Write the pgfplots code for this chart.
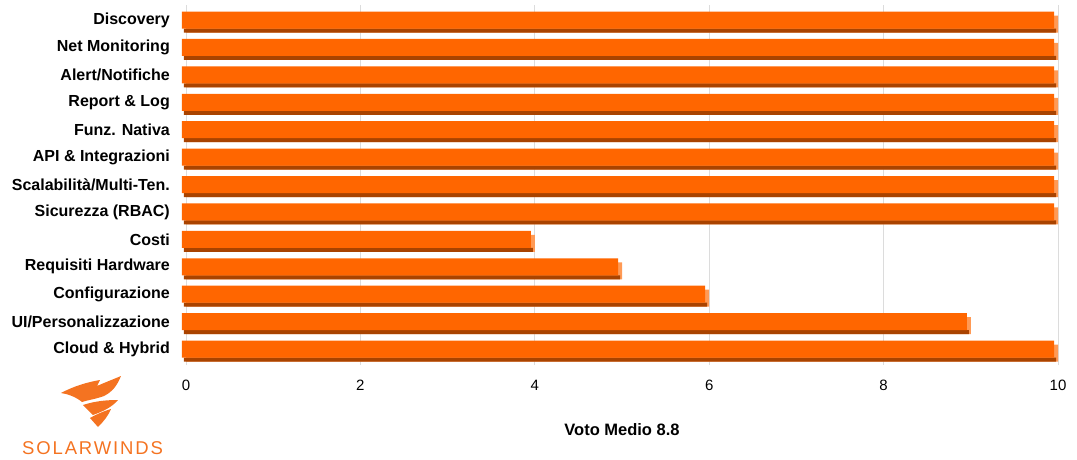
\documentclass[border=0pt]{standalone}
\usepackage{pgfplots}
\pgfplotsset{compat=1.18}
\usepackage{fontspec}
\setmainfont{Liberation Sans}
\newfontfamily\logofont[LetterSpace=10]{Liberation Sans}
\definecolor{barface}{HTML}{FF6600}
\definecolor{bardark}{HTML}{A94300}
\definecolor{barlight}{HTML}{FF9A55}
\definecolor{logoc}{HTML}{F47321}
\definecolor{gridc}{HTML}{DCDCDC}

\pgfplotstableread{
y v
12 10
11 10
10 10
9 10
8 10
7 10
6 10
5 10
4 4
3 5
2 6
1 9
0 10
}\scores

\begin{document}
\begin{tikzpicture}
\useasboundingbox (-186pt,-94pt) rectangle (891pt,365pt);
\begin{axis}[
  at={(0pt,0pt)}, anchor=south west,
  width=872pt, height=360pt, scale only axis,
  xmin=0, xmax=10, ymin=-0.583, ymax=12.547,
  clip=false,
  axis line style={draw=none},
  major tick length=0pt,
  xtick={0,2,...,10},
  ytick={0,...,12},
  yticklabels={Cloud \& Hybrid, UI/Personalizzazione, Configurazione, Requisiti Hardware, Costi, Sicurezza (RBAC), Scalabilità/Multi-Ten., API \& Integrazioni, Funz. Nativa, Report \& Log, Alert/Notifiche, Net Monitoring, Discovery},
  xmajorgrids, grid style={gridc, line width=0.8pt},
  /pgf/number format/assume math mode=true,
  xticklabel style={font=\fontsize{15}{17}\selectfont, anchor=center, yshift=-20pt},
  yticklabel style={font=\bfseries\fontsize{16}{18}\selectfont, anchor=east, inner sep=0pt, xshift=-16pt},
  xlabel={Voto Medio 8.8},
  xlabel style={font=\bfseries\fontsize{16.5}{18}\selectfont, at={(axis description cs:0.5,0)}, anchor=center, yshift=-65pt},
  xbar,
]
\addplot[xbar, draw=none, fill=barlight, bar width=17pt, bar shift=-4pt] table[x=v, y=y] {\scores};
\addplot[xbar, draw=none, fill=bardark, bar width=4pt, bar shift=-10.5pt, xshift=-2pt] table[x=v, y=y] {\scores};
\addplot[xbar, draw=none, fill=barface, bar width=17pt, bar shift=0pt, xshift=-4pt] table[x=v, y=y] {\scores};
\end{axis}
% logo (px coordinates)
\begin{scope}[shift={(-186pt,365pt)}, x=1pt, y=-1pt]
\fill[logoc] (61,393) .. controls (74,386) and (88,382) .. (100,380)
  -- (97,386) .. controls (106,382) and (114,379) .. (121,376)
  .. controls (117,386) and (112,392) .. (104,396)
  .. controls (96,399) and (88,400) .. (82,402)
  .. controls (76,397) and (68,394) .. (61,393) -- cycle;
\fill[logoc] (83,405) .. controls (95,401) and (107,400) .. (118,400)
  .. controls (112,407) and (104,411) .. (93,415) -- cycle;
\fill[logoc] (90,418) .. controls (97,414) and (104,411) .. (111,409)
  .. controls (108,416) and (104,421) .. (98,427) -- cycle;
\node[anchor=base west, inner sep=0pt, text=logoc, font=\logofont\fontsize{18.5}{20}\selectfont] at (22,454) {SOLARWINDS};
\end{scope}
\end{tikzpicture}
\end{document}
